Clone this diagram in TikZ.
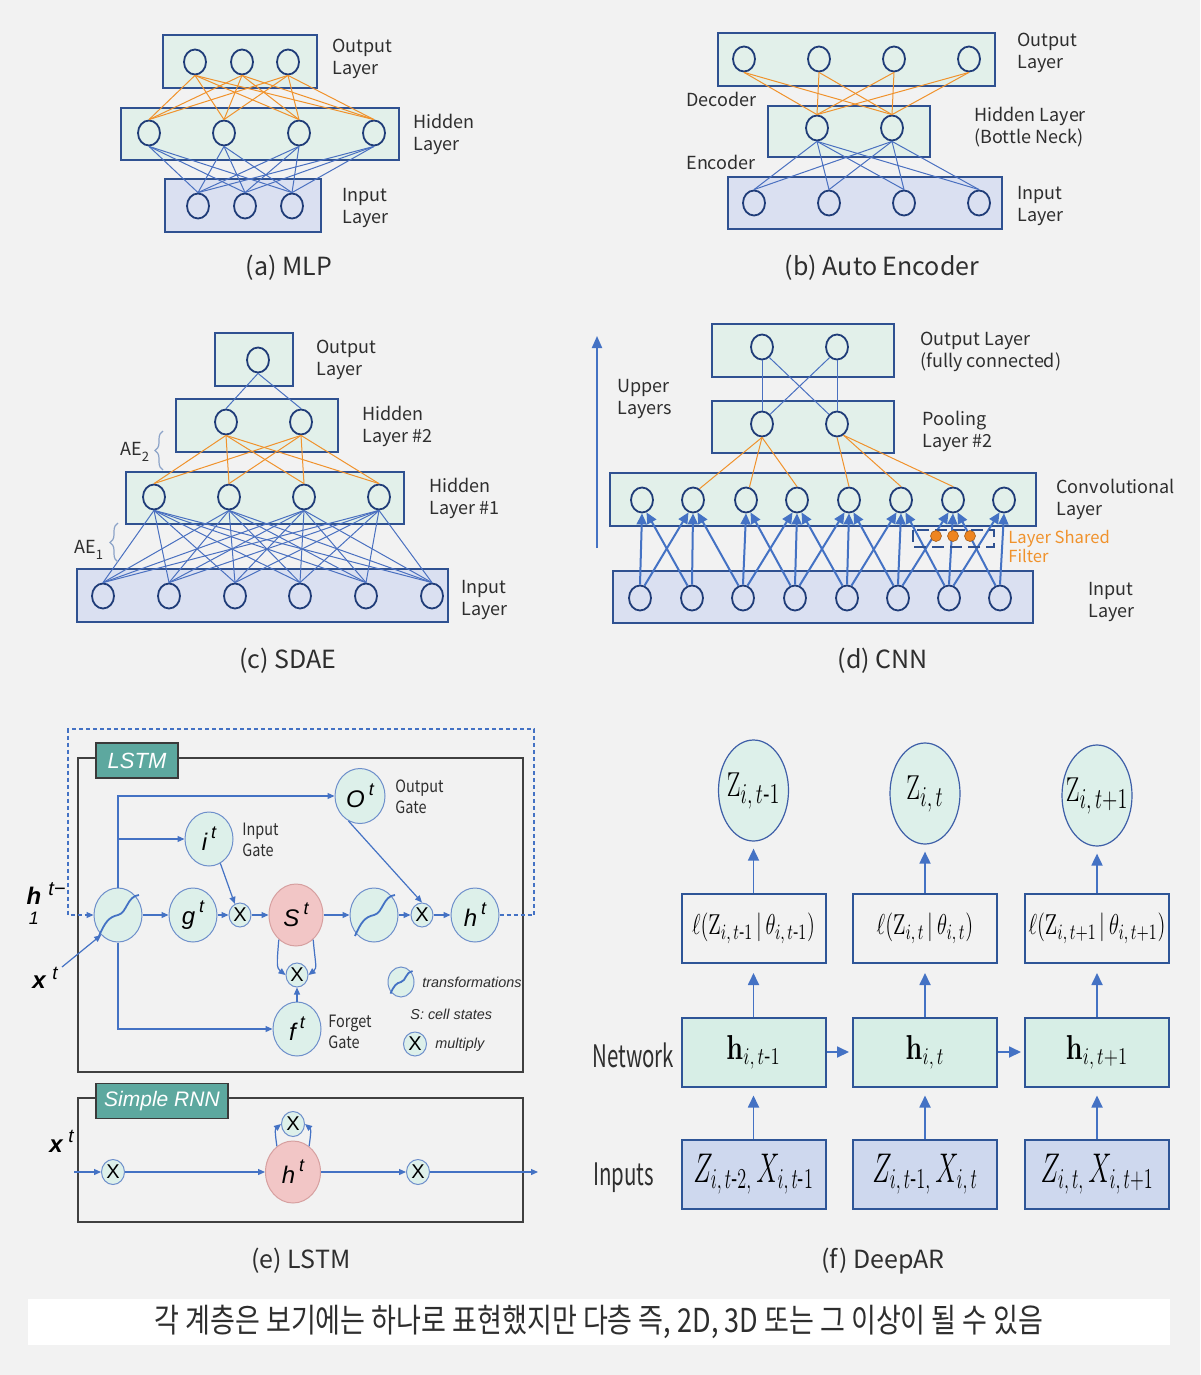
\documentclass[tikz,border=0pt]{standalone}
\usepackage[no-math]{fontspec}
\usepackage{amsmath}
\usepackage{graphicx}
\setmainfont{Noto Sans CJK KR}
\newfontfamily\narrowA[FakeStretch=0.85]{Noto Sans CJK KR}
\newfontfamily\narrowB[FakeStretch=0.66]{Noto Sans CJK KR}
\newfontfamily\korfont[FakeStretch=0.82]{Noto Sans CJK KR}
\newfontfamily\lsans{Liberation Sans}
\usetikzlibrary{shapes.geometric,arrows.meta,calc,decorations.pathreplacing}

\definecolor{bgc}{HTML}{F2F2F2}
\definecolor{mint}{HTML}{E2F0EA}
\definecolor{lav}{HTML}{DAE0F1}
\definecolor{bdr}{HTML}{2F5191}
\definecolor{circ}{HTML}{1F3C78}
\definecolor{lblue}{HTML}{4A70C0}
\definecolor{orng}{HTML}{F0922C}
\definecolor{orng2}{HTML}{EE8520}
\definecolor{arrb}{HTML}{4472C4}
\definecolor{lcirc}{HTML}{DDF0EA}
\definecolor{lcircb}{HTML}{6E8FCB}
\definecolor{pinkf}{HTML}{F2C6C6}
\definecolor{pinkb}{HTML}{D6A0A0}
\definecolor{tealc}{HTML}{5DA89F}
\definecolor{tagb}{HTML}{3A3A3A}
\definecolor{boxg}{HTML}{404040}
\definecolor{txt}{HTML}{2E2E2E}
\definecolor{dmint}{HTML}{D7EEE6}
\definecolor{dlav}{HTML}{CED8EE}
\definecolor{dbdr}{HTML}{2E5597}
\definecolor{zellb}{HTML}{3E5FA8}
\definecolor{brc}{HTML}{8CA3C8}

\newcommand\twolab[5]{\node[lbl] (#1a) at (#2,#3) {#4}; \node[lbl] (#1b) at (#2,#3+22) {#5};}
\newcommand\vt[1]{{\lsans\itshape\fontsize{12}{12}\selectfont #1\,\raisebox{0.5em}{\fontsize{9}{9}\selectfont t}}}
\newcommand\sigm[2]{\begin{scope}[shift={(#1.center)},scale=#2]
\draw[draw=arrb,line width=0.9pt] (-19,21) .. controls (-13,7) and (-9,2) .. (0,0) .. controls (9,-2) and (9,-19) .. (21,-20);
\end{scope}}

\tikzset{
  layerbox/.style={draw=bdr,line width=1pt,fill=mint},
  inbox/.style={draw=bdr,line width=1pt,fill=lav},
  neuron/.style={ellipse,draw=circ,line width=0.9pt,minimum width=11pt,minimum height=12.5pt,inner sep=0pt},
  bline/.style={draw=lblue,line width=0.5pt},
  oline/.style={draw=orng,line width=0.5pt},
  lbl/.style={anchor=base west,inner sep=0pt,text=txt,font=\fontsize{9}{11}\selectfont},
  captxt/.style={anchor=base,inner sep=0pt,text=txt,font=\fontsize{12.5}{14}\selectfont},
  cnnarrow/.style={draw=arrb,line width=1pt,-{Triangle[length=5.5pt,width=5pt]}},
  lstmline/.style={draw=arrb,line width=0.6pt},
  lstmarrow/.style={lstmline,-{Triangle[length=3.5pt,width=3pt]}},
  gcirc/.style={ellipse,draw=lcircb,line width=0.5pt,fill=lcirc,minimum width=24pt,minimum height=27pt,inner sep=0pt},
  xcirc/.style={ellipse,draw=lcircb,line width=0.5pt,fill=lcirc,minimum width=11pt,minimum height=12pt,inner sep=0pt,font=\lsans\fontsize{10}{10}\selectfont},
  pcirc/.style={ellipse,draw=pinkb,line width=0.5pt,fill=pinkf,minimum width=27pt,minimum height=31pt,inner sep=0pt},
  tag/.style={draw=tagb,fill=tealc,line width=0.8pt,inner sep=0pt,text=white,minimum height=17.5pt},
  lstmlab/.style={anchor=base west,inner sep=0pt,text=txt,font=\narrowA\fontsize{8.5}{10}\selectfont},
  itlab/.style={anchor=base west,inner sep=0pt,text=txt,font=\lsans\itshape\fontsize{7.2}{8}\selectfont},
  dbox/.style={rectangle,draw=dbdr,line width=1pt,minimum width=72pt,minimum height=34.5pt,inner sep=0pt},
  zell/.style={ellipse,draw=zellb,line width=0.6pt,fill=lcirc,minimum width=35pt,minimum height=50.5pt,inner sep=0pt},
  darrow/.style={draw=arrb,line width=0.9pt,-{Triangle[length=6pt,width=5.5pt]}},
  brace/.style={draw=brc,line width=0.6pt,decorate,decoration={brace,amplitude=4pt}},
}

\begin{document}
\begin{tikzpicture}[x=0.5pt,y=-0.5pt]
\fill[bgc] (0,0) rectangle (1200,1375);
\useasboundingbox (0,0) rectangle (1200,1375);

% ================= (a) MLP
\draw[layerbox] (163,35) rectangle (317,88);
\draw[layerbox] (121,108) rectangle (399,160);
\draw[inbox] (165,179) rectangle (321,232);
\foreach \x [count=\i] in {195,242,288} \node[neuron] (ao\i) at (\x,62) {};
\foreach \x [count=\i] in {149,224,299,374} \node[neuron] (ah\i) at (\x,133) {};
\foreach \x [count=\i] in {198,245,292} \node[neuron] (ai\i) at (\x,206) {};
\foreach \i in {1,2,3}{\foreach \j in {1,2,3,4}{\draw[oline] (ao\i.south) -- (ah\j.north);}}
\foreach \j in {1,2,3,4}{\foreach \k in {1,2,3}{\draw[bline] (ah\j.south) -- (ai\k.north);}}
\twolab{aout}{332}{53}{Output}{Layer}
\twolab{ahid}{413}{129}{Hidden}{Layer}
\twolab{ain}{342}{202}{Input}{Layer}
\node[captxt] (capa) at (289,275) {(a) MLP};

% ================= (b) Auto Encoder
\draw[layerbox] (718,33) rectangle (995,86);
\draw[layerbox] (768,106) rectangle (930,157);
\draw[inbox] (728,177) rectangle (1002,229);
\foreach \x [count=\i] in {744,819,894,969} \node[neuron] (bo\i) at (\x,59) {};
\foreach \x [count=\i] in {817,892} \node[neuron] (bh\i) at (\x,128) {};
\foreach \x [count=\i] in {754,829,904,979} \node[neuron] (bi\i) at (\x,203) {};
\foreach \i in {1,2,3,4}{\foreach \j in {1,2}{\draw[oline] (bo\i.south) -- (bh\j.north);}}
\foreach \j in {1,2}{\foreach \k in {1,2,3,4}{\draw[bline] (bh\j.south) -- (bi\k.north);}}
\twolab{bout}{1017}{47}{Output}{Layer}
\node[lbl] (bdec) at (686,107) {Decoder};
\twolab{bhid}{974}{122}{Hidden Layer}{(Bottle Neck)}
\node[lbl] (benc) at (686,170) {Encoder};
\twolab{bin}{1017}{200}{Input}{Layer}
\node[captxt] (capb) at (882,275) {(b) Auto Encoder};

% ================= (c) SDAE
\draw[layerbox] (215,333) rectangle (293,386);
\draw[layerbox] (176,399) rectangle (338,452);
\draw[layerbox] (126,472) rectangle (404,524);
\draw[inbox] (77,569) rectangle (448,622);
\node[neuron] (co1) at (258,360) {};
\foreach \x [count=\i] in {226,301} \node[neuron] (cq\i) at (\x,422) {};
\foreach \x [count=\i] in {154,229,304,379} \node[neuron] (cp\i) at (\x,497) {};
\foreach \x [count=\i] in {103,169,235,300,366,432} \node[neuron] (ci\i) at (\x,596) {};
\foreach \j in {1,2}{\draw[bline] (co1.south) -- (cq\j.north);}
\foreach \j in {1,2}{\foreach \k in {1,2,3,4}{\draw[oline] (cq\j.south) -- (cp\k.north);}}
\foreach \k in {1,2,3,4}{\foreach \m in {1,...,6}{\draw[bline] (cp\k.south) -- (ci\m.north);}}
\twolab{cout}{316}{353}{Output}{Layer}
\twolab{chid2}{362}{420}{Hidden}{Layer \#2}
\twolab{chid1}{429}{492}{Hidden}{Layer \#1}
\twolab{cin}{461}{593}{Input}{Layer}
\node[lbl] (ae2) at (120,455) {AE\raisebox{-0.35em}{\fontsize{6.5}{7}\selectfont 2}};
\node[lbl] (ae1) at (74,553) {AE\raisebox{-0.35em}{\fontsize{6.5}{7}\selectfont 1}};
\coordinate (br2a) at (163,470); \coordinate (br2b) at (163,431);
\coordinate (br1a) at (118,562); \coordinate (br1b) at (118,523);
\draw[brace] (br2a) -- (br2b);
\draw[brace] (br1a) -- (br1b);
\node[captxt] (capc) at (288,668) {(c) SDAE};

% ================= (d) CNN
\coordinate (ua) at (597,548); \coordinate (ub) at (597,336);
\draw[draw=arrb,line width=1pt,-{Triangle[length=6pt,width=5pt]}] (ua) -- (ub);
\twolab{dup}{617}{392}{Upper}{Layers}
\draw[layerbox] (712,324) rectangle (894,377);
\draw[layerbox] (712,401) rectangle (894,453);
\draw[layerbox] (610,473) rectangle (1036,526);
\draw[inbox] (613,571) rectangle (1033,623);
\foreach \x [count=\i] in {762,837} \node[neuron] (do\i) at (\x,347) {};
\foreach \x [count=\i] in {762,837} \node[neuron] (dp\i) at (\x,424) {};
\foreach \x [count=\i] in {642,693,746,797,849,901,953,1004} \node[neuron] (dc\i) at (\x,500) {};
\foreach \x [count=\i] in {640,692,743,795,847,898,949,1000} \node[neuron] (di\i) at (\x,598) {};
\draw[bline] (do1.south) -- (dp1.north);
\draw[bline] (do2.south) -- (dp2.north);
\draw[bline] (do1.-55) -- (dp2.130);
\draw[bline] (do2.-125) -- (dp1.50);
\draw[oline] (dp1.south) -- (dc2.60);
\draw[oline] (dp1.south) -- (dc3.75);
\draw[oline] (dp1.south) -- (dc4.north);
\draw[oline] (dp2.south) -- (dc5.north);
\draw[oline] (dp2.-60) -- (dc6.north);
\draw[oline] (dp2.-60) -- (dc7.north);
\foreach \i in {1,...,8}{\draw[cnnarrow] (di\i.north) -- (dc\i.south);}
\foreach \i/\j in {1/2,3/4,4/5,5/6,6/7,7/8}{\draw[cnnarrow] (di\i.70) -- (dc\j.-110);}
\foreach \i/\j in {2/1,3/2,4/3,5/4,6/5,7/6,8/7}{\draw[cnnarrow] (di\i.110) -- (dc\j.-70);}
\draw[draw=bdr,line width=1pt,dash pattern=on 6pt off 3pt] (913,530) rectangle (994,547);
\foreach \x [count=\i] in {936,953,970} \node[circle,fill=orng2,draw=orng2!70!black,line width=0.3pt,minimum size=5.5pt,inner sep=0pt] (fd\i) at (\x,536) {};
\twolab{dout}{920}{345}{Output Layer}{(fully connected)}
\twolab{dpool}{922}{425}{Pooling}{Layer \#2}
\twolab{dconv}{1056}{493}{Convolutional}{Layer}
\twolab{din}{1088}{595}{Input}{Layer}
\node[lbl,text=orng,font=\fontsize{8.3}{9}\selectfont] (dsh1) at (1008,543) {Layer Shared};
\node[lbl,text=orng,font=\fontsize{8.3}{9}\selectfont] (dsh2) at (1008,562) {Filter};
\node[captxt] (capd) at (883,668) {(d) CNN};

% ================= (e) LSTM
\draw[draw=boxg,line width=0.8pt] (78,758) rectangle (523,1072);
\node[tag,minimum width=41pt,font=\lsans\itshape\fontsize{11}{11}\selectfont] (lstmtag) at (137,760.5) {LSTM};
\node[gcirc] (t1) at (118,915) {};
\node[gcirc] (gt) at (193,915) {\vt{g}};
\node[xcirc] (x1) at (240,915) {X};
\node[pcirc] (st) at (296,915) {\vt{S}};
\node[gcirc] (t2) at (374,915) {};
\node[xcirc] (x2) at (422,915) {X};
\node[gcirc] (ht) at (475,915) {\vt{h}};
\node[gcirc] (it) at (209,839) {\vt{i}};
\node[gcirc,minimum width=25pt,minimum height=27.5pt] (ot) at (360,796) {\vt{O}};
\node[xcirc] (x3) at (297,975) {X};
\node[gcirc] (ft) at (297,1029) {\vt{f}};
\node[gcirc,minimum width=13pt,minimum height=15pt] (lt) at (401,982) {};
\node[xcirc,minimum width=11.5pt,minimum height=12pt] (lx) at (415,1044) {X};
\sigm{t1}{1}
\sigm{t2}{1}
\sigm{lt}{0.55}
\coordinate (dl1) at (534,729); \coordinate (dl2) at (68,729);
\draw[lstmarrow,dash pattern=on 2pt off 1.5pt] (ht.east) -| (dl1) -- (dl2) |- (t1.west);
\draw[lstmarrow] (t1.east) -- (gt.west);
\draw[lstmarrow] (gt.east) -- (x1.west);
\draw[lstmarrow] (x1.east) -- (st.west);
\draw[lstmarrow] (st.east) -- (t2.west);
\draw[lstmarrow] (t2.east) -- (x2.west);
\draw[lstmarrow] (x2.east) -- (ht.west);
\draw[lstmarrow] (t1.north) |- (ot.west);
\draw[lstmarrow] (t1.north) |- (it.west);
\draw[lstmarrow] (t1.south) |- (ft.west);
\draw[lstmarrow] (it.-65) -- (x1.115);
\draw[lstmarrow] (ot.-115) -- (x2.north);
\draw[lstmarrow] (ft.north) -- (x3.south);
\draw[lstmarrow] (st.235) .. controls ($(st.235)+(-2,24)$) and ($(x3.west)+(-9,-7)$) .. (x3.west);
\draw[lstmarrow] (st.-55) .. controls ($(st.-55)+(2,24)$) and ($(x3.east)+(9,-7)$) .. (x3.east);
\coordinate (xin) at (62,967);
\draw[lstmarrow] (xin) -- (t1.230);
\node[anchor=base,inner sep=0pt,font=\lsans\bfseries\itshape\fontsize{12}{12}\selectfont] (hlab) at (34,904) {h};
\node[anchor=base west,inner sep=0pt,font=\lsans\itshape\fontsize{10}{10}\selectfont] (hlabt) at (48,895) {t−};
\node[anchor=base,inner sep=0pt,font=\lsans\itshape\fontsize{9}{9}\selectfont] (hlab1) at (34,924) {1};
\node[anchor=base,inner sep=0pt,font=\lsans\bfseries\itshape\fontsize{12}{12}\selectfont] (xlab) at (39,988) {x};
\node[anchor=base,inner sep=0pt,font=\lsans\itshape\fontsize{9.5}{10}\selectfont] (xlabt) at (55,979) {t};
\node[lstmlab] (og1) at (395,792) {Output};
\node[lstmlab] (og2) at (395,813) {Gate};
\node[lstmlab] (ig1) at (242,835) {Input};
\node[lstmlab] (ig2) at (242,856) {Gate};
\node[lstmlab] (fg1) at (328,1027) {Forget};
\node[lstmlab] (fg2) at (328,1048) {Gate};
\node[itlab] (leg1) at (422,987) {transformations};
\node[itlab] (leg2) at (410,1019) {S: cell states};
\node[itlab] (leg3) at (435,1048) {multiply};

% Simple RNN
\draw[draw=boxg,line width=0.8pt] (78,1098) rectangle (523,1222);
\node[tag,minimum width=66pt,font=\lsans\itshape\fontsize{10.5}{11}\selectfont] (rnntag) at (162,1101) {Simple RNN};
\node[xcirc,minimum width=11.5pt,minimum height=12.5pt] (xa) at (113,1172) {X};
\node[pcirc,minimum width=27.5pt,minimum height=31pt] (h2) at (293,1172) {\vt{h}};
\node[xcirc,minimum width=11.5pt,minimum height=12.5pt] (xtop) at (293,1124) {X};
\node[xcirc,minimum width=11.5pt,minimum height=12.5pt] (xb) at (418,1172) {X};
\coordinate (rin) at (74,1172); \coordinate (rout) at (538,1172);
\draw[lstmarrow] (rin) -- (xa.west);
\draw[lstmarrow] (xa.east) -- (h2.west);
\draw[lstmarrow] (h2.east) -- (xb.west);
\draw[lstmarrow] (xb.east) -- (rout);
\draw[lstmarrow] (h2.122) .. controls ($(h2.122)+(-2,-14)$) and ($(xtop.west)+(-6,5)$) .. (xtop.west);
\draw[lstmarrow] (h2.58) .. controls ($(h2.58)+(2,-14)$) and ($(xtop.east)+(6,5)$) .. (xtop.east);
\node[anchor=base,inner sep=0pt,font=\lsans\bfseries\itshape\fontsize{12}{12}\selectfont] (rxlab) at (56,1152) {x};
\node[anchor=base,inner sep=0pt,font=\lsans\itshape\fontsize{9.5}{10}\selectfont] (rxlabt) at (71,1142) {t};
\node[captxt] (cape) at (301,1268) {(e) LSTM};

% ================= (f) DeepAR
\node[zell] (z1) at (753.5,790.5) {};
\node[zell] (z2) at (925,793.5) {};
\node[zell] (z3) at (1097,795.5) {};
\node[inner sep=0pt,font=\fontsize{19}{19}\selectfont] (z1t) at (z1.center) {\scalebox{0.7}[1]{$\mathrm{Z}_{i,\,t\text{-}1}$}};
\node[inner sep=0pt,font=\fontsize{19}{19}\selectfont] (z2t) at (z2.center) {\scalebox{0.7}[1]{$\mathrm{Z}_{i,\,t}$}};
\node[inner sep=0pt,font=\fontsize{19}{19}\selectfont] (z3t) at (z3.center) {\scalebox{0.7}[1]{$\mathrm{Z}_{i,\,t+1}$}};
\node[dbox,font=\fontsize{15}{15}\selectfont] (l1) at (753.5,928.5) {\scalebox{0.72}[1]{$\ell(\mathrm{Z}_{i,\,t\text{-}1}\,|\,\theta_{i,\,t\text{-}1})$}};
\node[dbox,font=\fontsize{15}{15}\selectfont] (l2) at (925,928.5) {\scalebox{0.72}[1]{$\ell(\mathrm{Z}_{i,\,t}\,|\,\theta_{i,\,t})$}};
\node[dbox,font=\fontsize{15}{15}\selectfont] (l3) at (1097,928.5) {\scalebox{0.72}[1]{$\ell(\mathrm{Z}_{i,\,t+1}\,|\,\theta_{i,\,t+1})$}};
\node[dbox,fill=dmint,font=\fontsize{16.5}{16.5}\selectfont] (hb1) at (753.5,1052) {\scalebox{0.78}[1]{$\mathbf{h}_{i,\,t\text{-}1}$}};
\node[dbox,fill=dmint,font=\fontsize{16.5}{16.5}\selectfont] (hb2) at (925,1052) {\scalebox{0.78}[1]{$\mathbf{h}_{i,\,t}$}};
\node[dbox,fill=dmint,font=\fontsize{16.5}{16.5}\selectfont] (hb3) at (1097,1052) {\scalebox{0.78}[1]{$\mathbf{h}_{i,\,t+1}$}};
\node[dbox,fill=dlav,font=\fontsize{20}{20}\selectfont] (ib1) at (753.5,1174.5) {\scalebox{0.63}[1]{$Z_{i,\,t\text{-}2,}\,X_{i,\,t\text{-}1}$}};
\node[dbox,fill=dlav,font=\fontsize{20}{20}\selectfont] (ib2) at (925,1174.5) {\scalebox{0.63}[1]{$Z_{i,\,t\text{-}1,}\,X_{i,\,t}$}};
\node[dbox,fill=dlav,font=\fontsize{20}{20}\selectfont] (ib3) at (1097,1174.5) {\scalebox{0.63}[1]{$Z_{i,\,t,}\,X_{i,\,t+1}$}};
\foreach \i in {1,2,3}{
  \draw[darrow,shorten >=3.5pt] (l\i.north) -- (z\i.south);
  \draw[darrow,shorten >=4.5pt] (hb\i.north) -- (l\i.south);
  \draw[darrow,shorten >=4pt] (ib\i.north) -- (hb\i.south);
}
\draw[darrow,shorten >=1.5pt] (hb1.east) -- (hb2.west);
\draw[darrow,shorten >=1.5pt] (hb2.east) -- (hb3.west);
\node[anchor=base west,inner sep=0pt,text=txt,font=\narrowB\fontsize{15.5}{16}\selectfont] (netlab) at (592,1067) {Network};
\node[anchor=base west,inner sep=0pt,text=txt,font=\narrowB\fontsize{15.5}{16}\selectfont] (inplab) at (593,1185) {Inputs};
\node[captxt] (capf) at (883,1268) {(f) DeepAR};

% ================= bottom caption
\fill[white] (28,1299) rectangle (1170,1345);
\node[inner sep=0pt,text=txt,font=\korfont\fontsize{16.5}{17}\selectfont] (kcap) at (599,1322) {각 계층은 보기에는 하나로 표현했지만 다층 즉, 2D, 3D 또는 그 이상이 될 수 있음};
\end{tikzpicture}
\end{document}
